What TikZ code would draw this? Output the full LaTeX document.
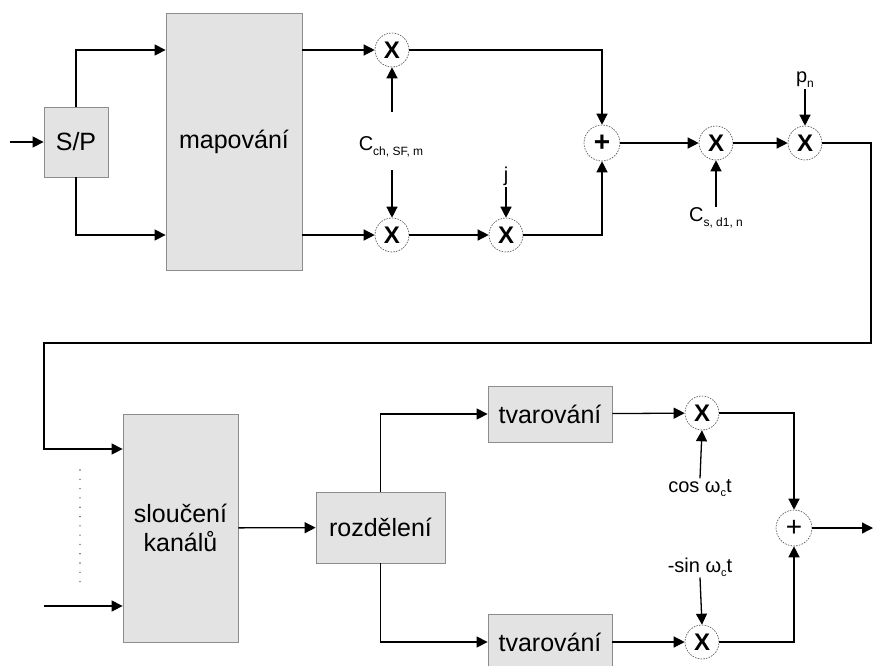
\documentclass[tikz,border=0pt]{standalone}
\usepackage{fontspec}
\setmainfont{Liberation Sans}
\usetikzlibrary{arrows.meta,calc}
\begin{document}
\begin{tikzpicture}[x=1pt,y=-1pt,
  blk/.style={draw=black!45,line width=0.8pt,fill=black!11,inner sep=0pt,font=\fontsize{25}{29}\selectfont,align=center},
  op/.style={circle,draw=black!70,dash pattern=on 1.6pt off 1.2pt,line width=0.6pt,minimum size=34pt,inner sep=0pt,font=\fontsize{24}{24}\selectfont\bfseries},
  lbl/.style={inner sep=1pt,font=\fontsize{20}{22}\selectfont},
  arr/.style={line width=1.3pt,-{Triangle[length=11pt,width=11pt]}},
  ln/.style={line width=1.3pt}]
\useasboundingbox (0,0) rectangle (873,665);
\clip (0,0) rectangle (873,665);
% blocks
\node[blk,minimum width=64pt,minimum height=70pt] (sp) at (76,142) {S/P};
\node[blk,minimum width=136pt,minimum height=257pt] (map) at (234,141.5) {mapování};
\node[blk,minimum width=115pt,minimum height=228pt] (slo) at (180.5,528) {sloučení\\kanálů};
\node[blk,minimum width=129pt,minimum height=71pt] (roz) at (380.5,527.5) {rozdělení};
\node[blk,minimum width=124pt,minimum height=56pt] (tv1) at (550,414) {tvarování};
\node[blk,minimum width=124pt,minimum height=56pt] (tv2) at (550,642) {tvarování};
% operators
\node[op] (m1) at (392,50) {X};
\node[op] (m2) at (392,235) {X};
\node[op] (mj) at (506,235) {X};
\node[op,minimum size=36pt,font=\fontsize{28}{28}\selectfont\bfseries] (p1) at (602,143) {+};
\node[op] (m3) at (716,143) {X};
\node[op] (m4) at (805,143) {X};
\node[op] (m5) at (702,413) {X};
\node[op] (m6) at (702,642) {X};
\node[op,minimum size=36pt,font=\fontsize{28}{28}\selectfont] (p2) at (794,528) {+};
% labels
\node[lbl] (cch) at (391,147) {C\raisebox{-5pt}{\fontsize{12}{12}\selectfont ch, SF, m}};
\node[lbl] (jl) at (506,176) {j};
\node[lbl] (cs) at (716,218) {C\raisebox{-5pt}{\fontsize{12}{12}\selectfont s, d1, n}};
\node[lbl] (pn) at (805,80) {p\raisebox{-5pt}{\fontsize{12}{12}\selectfont n}};
\node[lbl] (cos) at (700,488) {cos ω\raisebox{-4pt}{\fontsize{11}{11}\selectfont c}t};
\node[lbl] (sin) at (700,567) {-sin ω\raisebox{-4pt}{\fontsize{11}{11}\selectfont c}t};
% free coordinates
\coordinate (in1) at (10,142);
\coordinate (cA) at (392,112);
\coordinate (cB) at (392,170);
\coordinate (r1) at (871,343);
\coordinate (l1) at (44,343);
\coordinate (in2) at (44,606);
\coordinate (d1) at (80,470);
\coordinate (d2) at (80,582);
\coordinate (out) at (873,528);
% connectors
\draw[arr] (in1) -- (sp);
\draw[arr] (sp.north) |- (map.west |- m1);
\draw[arr] (sp.south) |- (map.west |- m2);
\draw[arr] (map.east |- m1) -- (m1);
\draw[arr] (map.east |- m2) -- (m2);
\draw[arr] (cA) -- (m1.south);
\draw[arr] (cB) -- (m2.north);
\draw[arr] (m2) -- (mj);
\draw[arr] (jl.south) -- (mj.north);
\draw[arr] (m1.east) -| (p1.north);
\draw[arr] (mj.east) -| (p1.south);
\draw[arr] (p1) -- (m3);
\draw[arr] (cs.north) -- (m3.south);
\draw[arr] (m3) -- (m4);
\draw[arr] (pn.south) -- (m4.north);
\draw[arr] (m4.east) -| (r1) -- (l1) |- ([yshift=79pt]slo.west);
\draw[arr] (in2) -- ([yshift=-78pt]slo.west);
\draw[line width=1.6pt,line cap=round,dash pattern=on 0pt off 9.3pt,black!60] (d1) -- (d2);
\draw[arr] (slo) -- (roz);
\draw[arr] (roz.north) |- (tv1.west);
\draw[arr] (roz.south) |- (tv2.west);
\draw[arr] (tv1) -- (m5);
\draw[arr] (tv2) -- (m6);
\draw[arr] (cos.north) -- (m5.south);
\draw[arr] (sin.south) -- (m6.north);
\draw[arr] (m5.east) -| (p2.north);
\draw[arr] (m6.east) -| (p2.south);
\draw[arr] (p2) -- (out);
\end{tikzpicture}
\end{document}
